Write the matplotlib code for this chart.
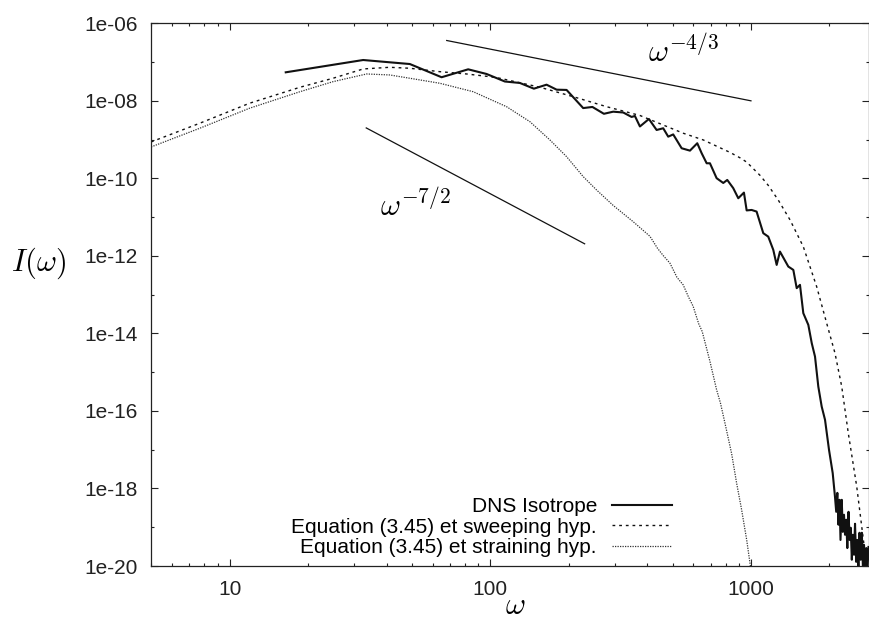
import numpy as np
import matplotlib
matplotlib.use('Agg')
import matplotlib.pyplot as plt
from matplotlib.ticker import FixedLocator, FuncFormatter, LogLocator, NullFormatter

plt.rcParams['font.family'] = ['Liberation Sans', 'DejaVu Sans']
plt.rcParams['mathtext.fontset'] = 'cm'

## DNS spectrum
w_dns = [16.4, 32.5, 49.1, 65.0, 82.2, 96.7, 113.7, 129.8, 146.9, 164.3, 179.6, 196.1,
         227.1, 246.4, 272.7, 296.1, 323.5, 348.3, 358.6, 374.9, 405.9, 434.5, 460.6,
         481.4, 503.1, 542, 583.3, 622.2, 646.9, 676.1, 696, 738.3, 782.9, 811, 855,
         894, 939.8, 962.7, 1006, 1051, 1115, 1165, 1218, 1255, 1292, 1391, 1454, 1498,
         1542, 1588, 1660, 1711, 1761, 1813, 1868, 1924, 1993, 2059,
         2101, 2124, 2145, 2167, 2187, 2206, 2230, 2251, 2275, 2296, 2320, 2343, 2368,
         2391, 2414, 2438, 2459, 2486, 2508, 2534, 2559, 2584, 2609, 2637, 2663, 2691,
         2715, 2744, 2771, 2798, 2825]
I_dns = [5.44e-8, 1.13e-7, 8.9e-8, 4.06e-8, 6.5e-8, 4.93e-8, 3.15e-8, 2.89e-8, 2.06e-8,
         2.61e-8, 1.94e-8, 1.91e-8, 6.5e-9, 6.95e-9, 4.63e-9, 5.25e-9, 5.0e-9, 3.84e-9,
         4.07e-9, 2.18e-9, 3.4e-9, 1.77e-9, 1.96e-9, 1.19e-9, 1.36e-9, 5.98e-10, 5.19e-10,
         8.05e-10, 4.45e-10, 2.45e-10, 2.45e-10, 1.01e-10, 7.6e-11, 9.1e-11, 5.6e-11,
         3.07e-11, 4.29e-11, 1.49e-11, 1.53e-11, 1.39e-11, 3.85e-12, 3.14e-12, 1.43e-12,
         5.85e-13, 1.29e-12, 5.3e-13, 4.35e-13, 1.47e-13, 1.79e-13, 3.33e-14, 1.66e-14,
         5.6e-15, 2.53e-15, 4.26e-16, 1.3e-16, 5.9e-17, 9.9e-18, 2.49e-18,
         6.1e-19, 2.5e-19, 7.7e-19, 1.16e-19, 5.1e-19, 4.7e-20, 5.1e-19, 7.6e-20, 2.1e-19,
         6.4e-20, 1.56e-19, 2.9e-20, 2.5e-19, 4.7e-20, 9.7e-20, 1.45e-20, 6.4e-20,
         1.95e-20, 1.23e-19, 1.28e-20, 4.7e-20, 9e-21, 7.2e-20, 1.45e-20, 7.2e-20, 8e-21,
         3.5e-20, 1.0e-20, 2.9e-20, 7e-21, 3.1e-20]

## Equation (3.45), sweeping
w_swp = [4.99, 7.67, 11.9, 18.6, 24.9, 32.5, 41.1, 49.1, 64.0, 81, 99.5, 108.8, 155,
         207.9, 279.3, 374.9, 549.6, 656, 738.3, 830.8, 907.6, 962.7, 1082.6, 1165,
         1273, 1412, 1588, 1787, 1952, 2101, 2230, 2363, 2546, 2661, 2781, 2900]
I_swp = [8.7e-10, 2.64e-9, 8.65e-9, 2.24e-8, 3.82e-8, 6.64e-8, 7.33e-8, 6.92e-8,
         5.65e-8, 4.93e-8, 4.2e-8, 3.82e-8, 2.24e-8, 1.28e-8, 7.06e-9, 4.19e-9, 1.46e-9,
         9.8e-10, 6.76e-10, 4.68e-10, 3.39e-10, 2.63e-10, 1.2e-10, 6.6e-11, 2.75e-11,
         8.5e-12, 1.73e-12, 1.61e-13, 1.84e-14, 3.09e-15, 4.26e-16, 2.67e-17, 1.12e-18,
         1.04e-19, 9.7e-21, 1e-21]

## Equation (3.45), straining
w_str = [4.99, 7.67, 11.9, 18.6, 24.9, 33.5, 41.1, 49.1, 64.0, 85.9, 115.4, 141.8,
         169.2, 196.1, 227.1, 255.7, 296.1, 353.4, 409.6, 437.6, 460.6, 488.7, 520,
         549.6, 575, 600, 630, 650, 696, 738.3, 764, 795, 843, 881, 921, 963, 995, 1010]
I_str = [6.46e-10, 1.96e-9, 6.43e-9, 1.72e-8, 3.12e-8, 4.93e-8, 4.65e-8, 3.82e-8,
         2.84e-8, 1.72e-8, 7.06e-9, 2.9e-9, 9.8e-10, 3.63e-10, 1.11e-10, 5.0e-11, 2.0e-11,
         7.6e-12, 3.2e-12, 1.58e-12, 1.02e-12, 6.5e-13, 2.8e-13, 1.78e-13, 8.9e-14,
         5.0e-14, 1.78e-14, 1.12e-14, 1.9e-15, 3.5e-16, 1.58e-16, 4.8e-17, 7.9e-18,
         1.37e-18, 2.8e-19, 4.7e-20, 1e-20, 4e-21]

## power-law guide lines (end points)
w_43 = [68, 1000]
I_43 = [3.6e-7, 1e-8]
w_72 = [33.4, 230]
I_72 = [2.0e-9, 2.05e-12]

yt = [1e-20, 1e-18, 1e-16, 1e-14, 1e-12, 1e-10, 1e-08, 1e-06]
yt_minor = [1e-19, 1e-17, 1e-15, 1e-13, 1e-11, 1e-09, 1e-07]
xt = [10, 100, 1000]

fig = plt.figure(figsize=(8.69, 6.23), dpi=100)
ax = fig.add_axes([151.3/869, 1-566/623, (868.5-151.3)/869, (566-23.3)/623])

ax.plot(w_dns, I_dns, color='#111111', lw=1.5, label='DNS Isotrope')
ax.plot(w_swp, I_swp, color='#111111', lw=1.0, dashes=(2.0, 2.8),
        label='Equation (3.45) et sweeping hyp.')
ax.plot(w_str, I_str, color='#333333', lw=0.9, dashes=(1.0, 1.0),
        label='Equation (3.45) et straining hyp.')
ax.plot(w_43, I_43, color='#111111', lw=0.9)
ax.plot(w_72, I_72, color='#111111', lw=0.9)

ax.text(402, 1.02e-7, r'$\omega^{-4/3}$', fontsize=22, ha='left', va='baseline')
ax.text(37.6, 1.07e-11, r'$\omega^{-7/2}$', fontsize=22, ha='left', va='baseline')

ax.set_xscale('log')
ax.set_yscale('log')
ax.set_xlim(5, 2825)
ax.set_ylim(1e-20, 1e-6)

ax.yaxis.set_major_locator(FixedLocator(yt))
ax.yaxis.set_minor_locator(FixedLocator(yt_minor))
ax.yaxis.set_major_formatter(FuncFormatter(lambda v, p: '1e-%02d' % round(-np.log10(v))))
ax.yaxis.set_minor_formatter(NullFormatter())
ax.xaxis.set_major_locator(FixedLocator(xt))
ax.xaxis.set_minor_locator(LogLocator(base=10, subs=np.arange(2, 10)))
ax.xaxis.set_major_formatter(FuncFormatter(lambda v, p: '%d' % v))
ax.xaxis.set_minor_formatter(NullFormatter())

ax.tick_params(which='both', direction='in', top=True, right=True, width=0.8,
               colors='#222222', labelsize=15)
ax.tick_params(which='major', length=5, pad=10)
ax.tick_params(which='minor', length=2.5)
for s in ax.spines.values():
    s.set_linewidth(0.9)
    s.set_color('#222222')

fig.text(39/869, 1-263/623, r'$I(\omega)$', fontsize=22, ha='center', va='center')
fig.text(515/869, 1-621/623, r'$\omega$', fontsize=22, ha='center', va='bottom')

leg = ax.legend(loc='lower right', bbox_to_anchor=(0.726, 0.016), frameon=False,
                markerfirst=False, fontsize=15, handlelength=2.9, handletextpad=0.7,
                labelspacing=0.08, borderpad=0, borderaxespad=0)

fig.savefig('out.png', dpi=100)
